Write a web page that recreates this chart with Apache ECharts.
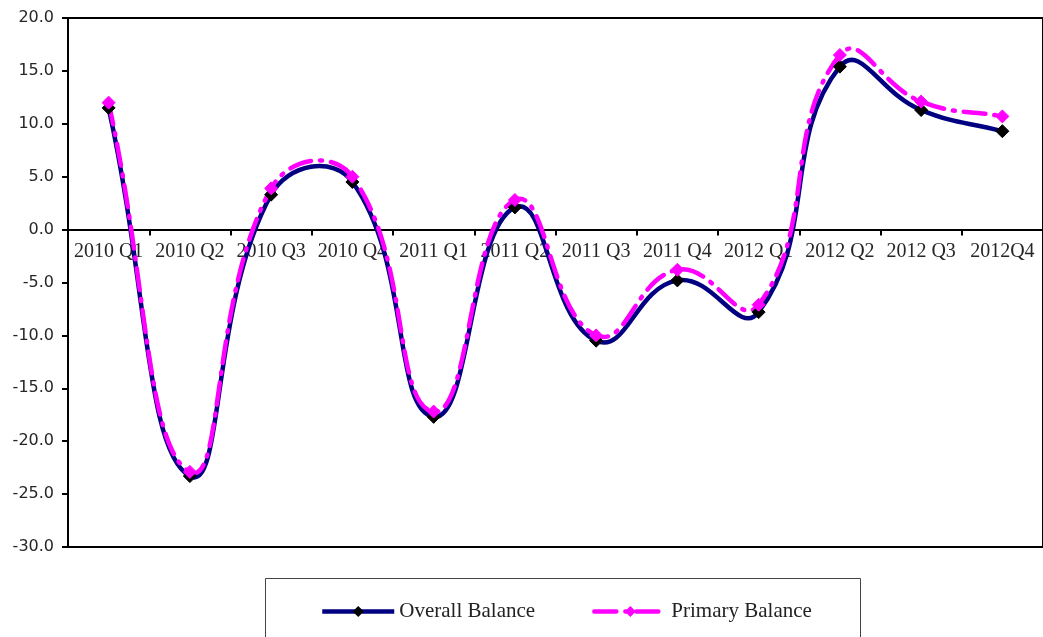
<!DOCTYPE html>
<html>
<head>
<meta charset="utf-8">
<script src="https://cdn.jsdelivr.net/npm/echarts@6/dist/echarts.min.js"></script>
<style>
html,body{margin:0;padding:0;background:#fff;}
#main{width:1043px;height:637px;}
</style>
</head>
<body>
<div id="main"></div>
<script>
const categories = ['2010 Q1','2010 Q2','2010 Q3','2010 Q4','2011 Q1','2011 Q2','2011 Q3','2011 Q4','2012 Q1','2012 Q2','2012 Q3','2012Q4'];
const overallBalance = [11.5, -23.3, 3.3, 4.5, -17.7, 2.1, -10.5, -4.8, -7.8, 15.4, 11.3, 9.3];
const primaryBalance = [12.0, -22.9, 3.9, 5.0, -17.2, 2.8, -10.0, -3.8, -7.1, 16.5, 12.1, 10.7];
const seriesNames = ['Overall Balance', 'Primary Balance'];
const yMin = -30, yMax = 20, yStep = 5;

const GRID = {left: 68, top: 18, width: 985, height: 529};
const NAVY = '#000080', MAGENTA = '#FF00FF';
const DASH = [22, 9, 2, 9];

// Excel-like smoothing (chord-length scaled Catmull-Rom) in pixel space
function smoothPath(pts) {
  const t = 0.48;
  let d = 'M' + pts[0][0] + ' ' + pts[0][1];
  const dist = (a, b) => Math.hypot(b[0] - a[0], b[1] - a[1]);
  for (let i = 0; i < pts.length - 1; i++) {
    const p0 = pts[i - 1] || pts[i];
    const p1 = pts[i], p2 = pts[i + 1];
    const p3 = pts[i + 2] || pts[i + 1];
    const d01 = dist(p0, p1), d12 = dist(p1, p2), d23 = dist(p2, p3);
    const f1 = (d01 + d12) ? t * d12 / (d01 + d12) : 0;
    const f2 = (d12 + d23) ? t * d12 / (d12 + d23) : 0;
    const c1 = [p1[0] + (p2[0] - p0[0]) * f1, p1[1] + (p2[1] - p0[1]) * f1];
    const c2 = [p2[0] - (p3[0] - p1[0]) * f2, p2[1] - (p3[1] - p1[1]) * f2];
    d += ' C' + c1[0] + ' ' + c1[1] + ' ' + c2[0] + ' ' + c2[1] + ' ' + p2[0] + ' ' + p2[1];
  }
  return d;
}

function curveSeries(values, style, z) {
  return {
    type: 'custom', silent: true, clip: false, z: z,
    data: [[0, values[0]]],
    renderItem: function (params, api) {
      const pts = values.map((v, i) => api.coord([i, v]));
      return {
        type: 'path',
        shape: {pathData: smoothPath(pts)},
        style: Object.assign({fill: null}, style)
      };
    }
  };
}

const chart = echarts.init(document.getElementById('main'), null, {renderer: 'canvas'});
chart.setOption({
  animation: false,
  backgroundColor: '#fff',
  grid: Object.assign({show: true, borderColor: '#000', borderWidth: 2, backgroundColor: 'transparent'}, GRID),
  graphic: [{
    type: 'rect', left: 265, top: 578,
    shape: {width: 595, height: 80},
    style: {fill: 'transparent', stroke: '#444', lineWidth: 1}
  }],
  legend: {
    left: 320, top: 601, padding: 0,
    itemWidth: 72, itemHeight: 14, itemGap: 57,
    textStyle: {fontFamily: 'Liberation Serif', fontSize: 21, color: '#222'},
    data: [
      {name: seriesNames[0], lineStyle: {color: NAVY, width: 4.5, opacity: 1, type: 'solid'}},
      {name: seriesNames[1], lineStyle: {color: MAGENTA, width: 4.5, opacity: 1, type: DASH, cap: 'round'}}
    ]
  },
  xAxis: {
    type: 'category',
    data: categories,
    boundaryGap: true,
    offset: -GRID.height * (0 - yMin) / (yMax - yMin),
    axisLine: {onZero: false, lineStyle: {color: '#000', width: 2}},
    axisTick: {show: true, length: 6, lineStyle: {color: '#000', width: 2}},
    axisLabel: {fontFamily: 'Liberation Serif', fontSize: 20, color: '#262626', margin: 12, interval: 0},
    splitLine: {show: false}
  },
  yAxis: {
    type: 'value',
    min: yMin, max: yMax, interval: yStep,
    axisLine: {show: true, lineStyle: {color: '#000', width: 2}},
    axisTick: {show: true, length: 6, lineStyle: {color: '#000', width: 2}},
    axisLabel: {fontFamily: 'DejaVu Sans', fontSize: 16, color: '#262626', margin: 14,
      formatter: v => v.toFixed(1)},
    splitLine: {show: false}
  },
  series: [
    curveSeries(overallBalance, {stroke: NAVY, lineWidth: 4.5}, 2),
    curveSeries(primaryBalance, {stroke: MAGENTA, lineWidth: 4.5, lineDash: DASH, lineCap: 'round'}, 3),
    {
      name: seriesNames[0], type: 'line', data: overallBalance,
      symbol: 'diamond', symbolSize: 13,
      lineStyle: {color: NAVY, width: 4.5, opacity: 0},
      itemStyle: {color: '#000', borderColor: '#000'},
      z: 4
    },
    {
      name: seriesNames[1], type: 'line', data: primaryBalance,
      symbol: 'diamond', symbolSize: 13,
      lineStyle: {color: MAGENTA, width: 4.5, opacity: 0},
      itemStyle: {color: MAGENTA, borderColor: MAGENTA},
      z: 5
    }
  ]
});
</script>
</body>
</html>
